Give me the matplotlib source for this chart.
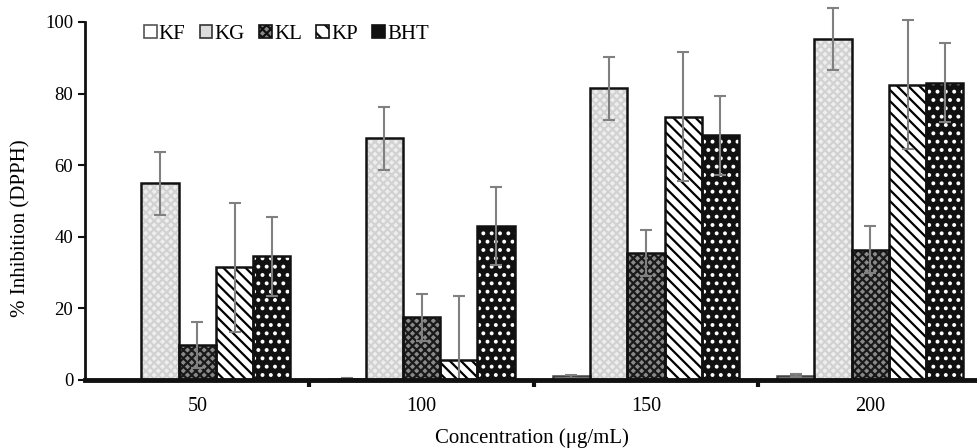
import numpy as np
import matplotlib
matplotlib.use("Agg")
import matplotlib.pyplot as plt
from matplotlib.ticker import FixedLocator

# -----------------------------
# Data
# -----------------------------
concentrations = ["50", "100", "150", "200"]
series_names = ["KF", "KG", "KL", "KP", "BHT"]

kf = [0.0, 0.3, 1.0, 1.2]
kg = [55.0, 67.5, 81.5, 95.3]
kl = [9.8, 17.5, 35.5, 36.4]
kp = [31.5, 5.5, 73.5, 82.5]
bht = [34.5, 43.0, 68.3, 83.0]

kf_err = [0.0, 0.3, 0.4, 0.4]
kg_err = [8.8, 8.8, 8.8, 8.6]
kl_err = [6.5, 6.5, 6.5, 6.5]
kp_err = [18.0, 18.0, 18.0, 18.0]
bht_err = [11.0, 11.0, 11.0, 11.0]

values = [kf, kg, kl, kp, bht]
errors = [kf_err, kg_err, kl_err, kp_err, bht_err]

# -----------------------------
# Styles (face, hatch, hatch colour)
# -----------------------------
styles = [
    ("white", "", "white"),
    ("#eeeeee", "xxxx", "#d2d2d2"),
    ("#8a8a8a", "xxxx", "#1a1a1a"),
    ("white", "\\\\\\", "black"),
    ("#111111", "..", "white"),
]
legend_edges = ["#555555", "#333333", "#111111", "#111111", "#111111"]
legend_hatches = ["", "", "xxxx", "\\\\", ".."]

plt.rcParams["font.family"] = ["Liberation Serif", "DejaVu Serif"]
plt.rcParams["hatch.linewidth"] = 1.6

fig = plt.figure(figsize=(9.78, 4.48), dpi=100)
ax = fig.add_axes([0.087, 0.152, 0.913, 0.799])

x = np.arange(len(concentrations))
width = 0.166
offsets = (np.arange(len(series_names)) - 2) * width

handles = []
for i, name in enumerate(series_names):
    face, hatch, hcol = styles[i]
    pos = x + offsets[i]
    vals = np.array(values[i])
    err = np.array(errors[i])
    # fill + hatch layer
    ax.bar(pos, vals, width, color=face, hatch=hatch, edgecolor=hcol,
           linewidth=0, zorder=2)
    # outline layer
    edge = "#444444" if i == 0 else "#111111"
    ax.bar(pos, vals, width, facecolor="none", edgecolor=edge,
           linewidth=1.8, zorder=3)
    # lower bar stops at the axis, upper bar may run past the top
    yerr = [np.minimum(err, vals), err]
    eb = ax.errorbar(pos, vals, yerr=yerr, fmt="none", ecolor="#808080",
                     elinewidth=1.5, capsize=4.5, capthick=1.5, zorder=4)
    for art in eb.lines[1] + eb.lines[2]:
        art.set_clip_on(False)
    h_face = "#dddddd" if i == 1 else face
    h = plt.Rectangle((0, 0), 1, 1, facecolor=h_face, hatch=legend_hatches[i],
                      edgecolor=legend_edges[i], linewidth=1.2)
    handles.append(h)

ax.set_xlim(-0.5, 3.48)
ax.set_ylim(0, 100)
ax.set_yticks(np.arange(0, 101, 20))
ax.set_xticks(x)
ax.set_xticklabels(concentrations)
ax.xaxis.set_minor_locator(FixedLocator([0.5, 1.5, 2.5]))

ax.tick_params(axis="x", which="major", length=0, labelsize=14.5, pad=12)
ax.tick_params(axis="x", which="minor", length=5, width=3, direction="out",
               color="#111111")
ax.tick_params(axis="y", which="major", length=5, width=1.5, labelsize=13.5,
               direction="out", color="#111111")

for s in ["top", "right"]:
    ax.spines[s].set_visible(False)
ax.spines["left"].set_linewidth(2)
ax.spines["left"].set_color("#111111")
ax.spines["bottom"].set_linewidth(3.5)
ax.spines["bottom"].set_color("#111111")
ax.spines["bottom"].set_zorder(5)

ax.set_ylabel("% Inhibition (DPPH)", fontsize=15, va="center")
ax.yaxis.set_label_coords(-0.072, 0.425)
ax.set_xlabel("Concentration (\u03bcg/mL)", fontsize=15, labelpad=9)

ax.legend(handles, series_names, loc="upper left", bbox_to_anchor=(0.045, 1.045),
          ncol=5, frameon=False, fontsize=15, handlelength=0.6, handleheight=0.6,
          handletextpad=0.1, columnspacing=0.7)

fig.savefig("out.png", dpi=100)
